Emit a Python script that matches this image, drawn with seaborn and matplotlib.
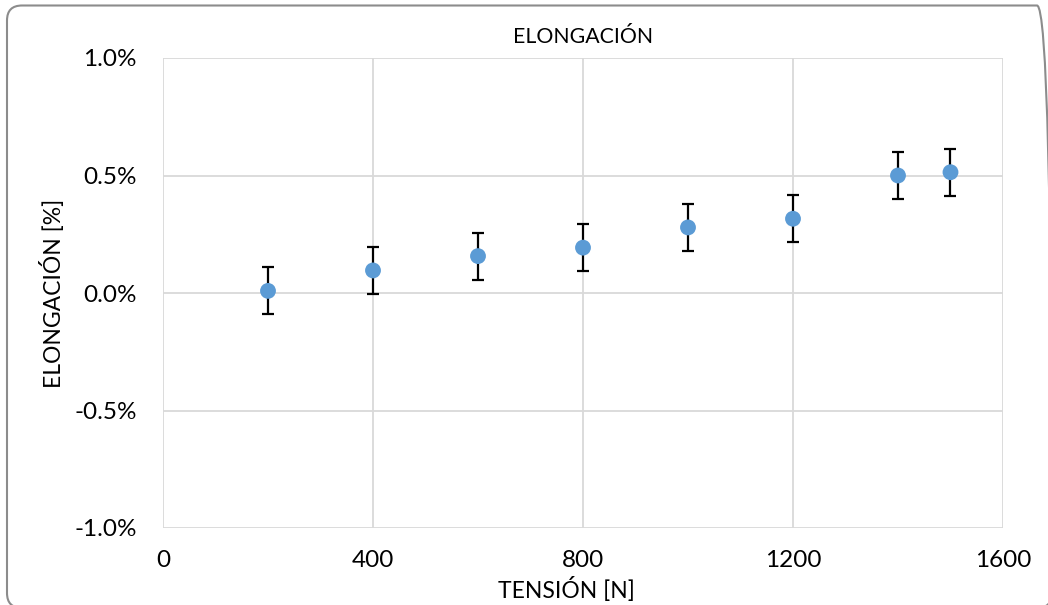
import numpy as np
import pandas as pd
import seaborn as sns
import matplotlib.pyplot as plt
from matplotlib.patches import FancyBboxPatch
from matplotlib.transforms import IdentityTransform
from matplotlib.ticker import PercentFormatter

# Data
tension = [200, 400, 600, 800, 1000, 1200, 1400, 1500]
elongacion = [0.009, 0.096, 0.157, 0.193, 0.279, 0.316, 0.500, 0.514]
error = [0.1, 0.1, 0.1, 0.1, 0.1, 0.1, 0.1, 0.1]

df = pd.DataFrame({'tension': tension, 'elongacion': elongacion, 'error': error})

sns.set_style('white')
plt.rcParams['font.family'] = ['Lato', 'DejaVu Sans']
plt.rcParams['axes.unicode_minus'] = False
plt.rcParams['text.color'] = 'black'
plt.rcParams['axes.labelcolor'] = 'black'

fig = plt.figure(figsize=(10.48, 6.05), dpi=100)
ax = fig.add_axes([163 / 1048, 1 - 528 / 605, 840 / 1048, 470 / 605])

ax.errorbar(df['tension'], df['elongacion'], yerr=df['error'], fmt='none',
            ecolor='black', elinewidth=1.6, capsize=4.5, capthick=1.6, zorder=2)
sns.scatterplot(data=df, x='tension', y='elongacion', ax=ax, color='#5B9BD5',
                s=130, edgecolor='none', zorder=3)

ax.set_xlim(0, 1600)
ax.set_ylim(-1.0, 1.0)
ax.set_xticks([0, 400, 800, 1200, 1600])
ax.set_yticks([-1.0, -0.5, 0.0, 0.5, 1.0])
ax.yaxis.set_major_formatter(PercentFormatter(decimals=1))
ax.grid(True, color='#D9D9D9', linewidth=1.3)
ax.set_axisbelow(True)
for s in ax.spines.values():
    s.set_visible(False)
ax.tick_params(axis='y', length=0, labelsize=17.5, colors='black', pad=19)
ax.tick_params(axis='x', length=0, labelsize=17.5, colors='black', pad=16)

ax.set_title('ELONGACIÓN', fontsize=15.3, pad=11, color='black')
ax.set_xlabel('TENSIÓN [N]', fontsize=16.5, labelpad=4)
ax.xaxis.set_label_coords(0.48, -0.105)
ax.set_ylabel('ELONGACIÓN [%]', fontsize=16.5, labelpad=6.5)

# Chart frame (right and bottom edges fall outside the image)
frame = FancyBboxPatch((7, -3), 1045, 602.5, boxstyle='round,pad=0,rounding_size=15',
                       transform=IdentityTransform(), fill=False, edgecolor='#8C8C8C',
                       linewidth=1.5)
fig.patches.append(frame)

fig.savefig('out.png', dpi=100)
